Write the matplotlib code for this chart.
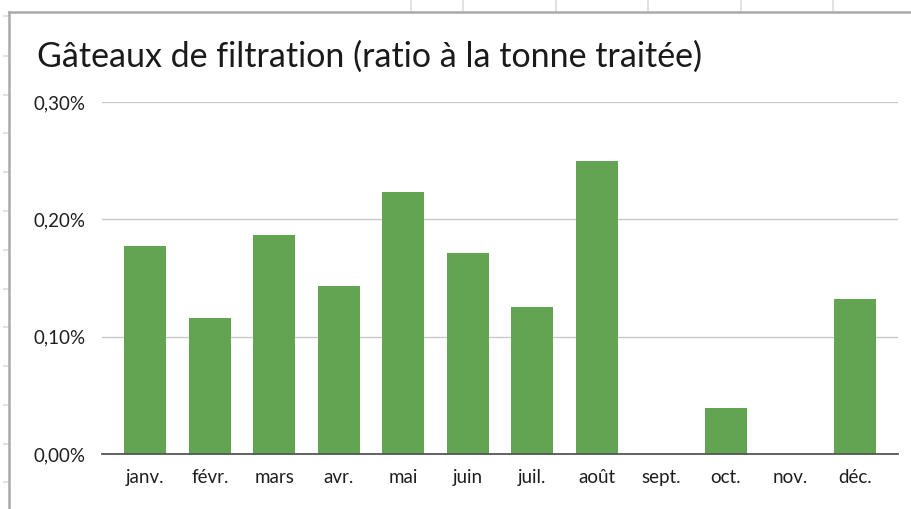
import matplotlib.pyplot as plt
from matplotlib.lines import Line2D
from matplotlib.ticker import FuncFormatter

# Ratio mensuel des gâteaux de filtration (% de la tonne traitée)
mois = ['janv.', 'févr.', 'mars', 'avr.', 'mai', 'juin',
        'juil.', 'août', 'sept.', 'oct.', 'nov.', 'déc.']
ratio = [0.177, 0.116, 0.187, 0.143, 0.223, 0.171,
         0.125, 0.250, 0.0, 0.039, 0.0, 0.132]
graduations = [0.0, 0.10, 0.20, 0.30]

plt.rcParams['font.family'] = ['Lato', 'DejaVu Sans']

W, H = 911, 509
fig = plt.figure(figsize=(W / 100, H / 100), dpi=100)


def px(x, y):
    # coordonnées pixel (origine en haut à gauche) -> fraction de figure
    return x / W, 1 - y / H


# grille du tableur autour du graphique
for x in [411, 463, 556, 648, 741, 833]:
    fig.add_artist(Line2D([x / W] * 2, [1 - 0 / H, 1 - 11 / H],
                          color='#dcdcdc', lw=1.2))
for y in [16, 56, 95, 133, 172, 211, 250, 289, 327, 366, 405, 444, 482]:
    fig.add_artist(Line2D([4 / W, 9 / W], [1 - y / H] * 2,
                          color='#dcdcdc', lw=1.2))

# cadre du graphique
fig.add_artist(Line2D([9 / W, 9 / W], [0, 1 - 12 / H], color='#aaaaaa', lw=1.8))
fig.add_artist(Line2D([9 / W, 1], [1 - 12 / H] * 2, color='#aaaaaa', lw=1.8))

x0, y_top = px(102, 102)
x1, y_bas = px(898, 454)
ax = fig.add_axes([x0, y_bas, x1 - x0, y_top - y_bas])

pos = list(range(len(mois)))
ax.bar(pos, ratio, width=0.65, color='#63a453', zorder=3)

ax.set_xlim(-0.67, len(mois) - 0.33)
ax.set_ylim(0, 0.30)
ax.set_yticks(graduations)
ax.yaxis.set_major_formatter(FuncFormatter(lambda v, p: f'{v:.2f}%'.replace('.', ',')))
ax.set_xticks(pos)
ax.set_xticklabels(mois)

ax.grid(axis='y', color='#c8c8c8', lw=1.0, zorder=0)
for s in ['left', 'right', 'top']:
    ax.spines[s].set_visible(False)
ax.spines['bottom'].set_color('#555555')
ax.spines['bottom'].set_linewidth(1.3)
ax.spines['bottom'].set_zorder(4)

ax.tick_params(axis='both', length=0, labelsize=13.5, colors='#1e1e1e')
ax.tick_params(axis='y', pad=12)
ax.tick_params(axis='x', pad=11)

fig.text(37 / W, 1 - 57 / H, 'Gâteaux de filtration (ratio à la tonne traitée)',
         fontsize=24.5, color='#1a1a1a', va='center', ha='left')

fig.savefig('out.png', dpi=100)
